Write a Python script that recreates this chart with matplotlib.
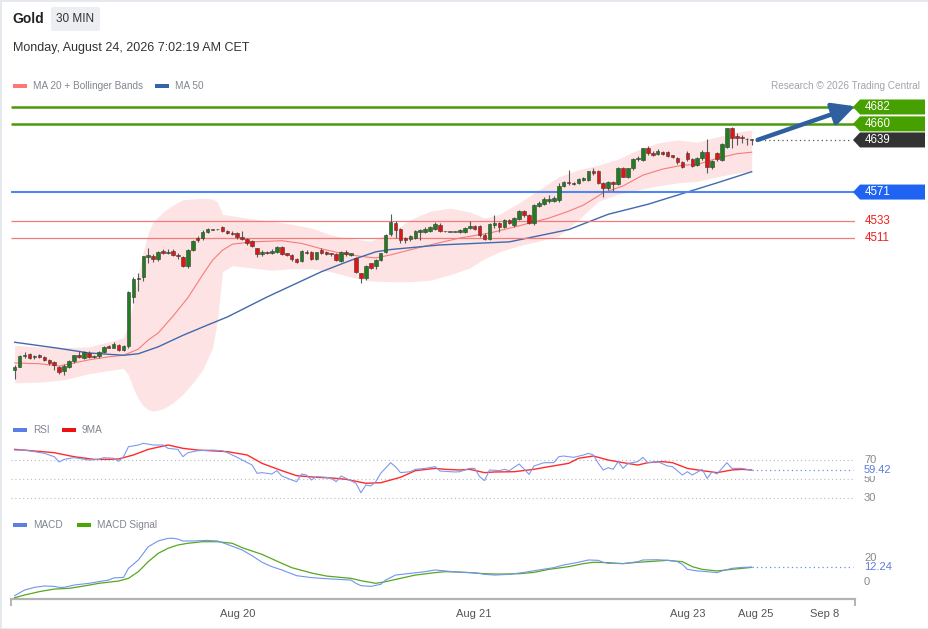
import matplotlib
matplotlib.use("Agg")
import numpy as np
import matplotlib.pyplot as plt
import matplotlib.transforms as mtransforms
from matplotlib.patches import Polygon, FancyBboxPatch, Rectangle

plt.rcParams['font.family'] = ['Liberation Sans', 'DejaVu Sans']

# ----------------- data (30 min candles, Gold) -----------------
opens = [
    4339, 4343, 4357, 4360, 4355.5, 4358, 4356, 4352, 4349, 4343,
    4337, 4343, 4350, 4358, 4355, 4361, 4356, 4357, 4362, 4370,
    4368, 4372, 4365, 4370, 4434, 4457, 4460, 4486, 4487, 4483,
    4494.5, 4492, 4494, 4489, 4486, 4474.5, 4495.5, 4511, 4510.6, 4518.8,
    4522, 4522.3, 4525.8, 4520.6, 4518, 4518, 4511.9, 4510.1, 4507.5, 4497.5,
    4490.1, 4493.2, 4491.9, 4492.7, 4498.8, 4491, 4489.3, 4484, 4481.4, 4493,
    4493.2, 4483.6, 4495.4, 4492.3, 4491, 4490.1, 4481, 4493.2, 4488.8, 4484.5,
    4465.8, 4459.2, 4477.9, 4474.9, 4482.3, 4493, 4515.8, 4531, 4522.3, 4511,
    4509.3, 4511.4, 4519.4, 4518.8, 4520.6, 4522.3, 4528.4, 4519.7, 4519.3, 4519.3,
    4518.8, 4518.8, 4524, 4526.6, 4526.6, 4515.4, 4509.3, 4528.4, 4530, 4525.8,
    4534.5, 4528, 4535.4, 4546.7, 4540.6, 4530.1, 4553.2, 4555.4, 4559.3, 4559.7,
    4560.6, 4578.4, 4584, 4583.2, 4582.4, 4586.7, 4586.7, 4598.4, 4598.4, 4583.2,
    4575.8, 4584.1, 4581, 4602.8, 4590.2, 4602, 4613.7, 4612.8, 4628.9, 4622.4,
    4620.6, 4623.7, 4623.7, 4619.3, 4615.8, 4609.8, 4622.4, 4613.7, 4606.2, 4615,
    4623.6, 4603.2, 4621.5, 4612.8, 4630.2, 4655, 4644.5, 4643.2, 4640.2, 4640,
]
highs = [
    4345, 4358, 4362, 4361, 4358, 4360, 4357, 4353, 4350, 4344,
    4346, 4352, 4359, 4363, 4364, 4363, 4358, 4364, 4370, 4371,
    4375, 4373, 4371, 4442, 4460, 4465, 4488, 4498, 4490, 4494,
    4497, 4497, 4497, 4492, 4487, 4497, 4509, 4514, 4521, 4524,
    4523, 4523, 4527, 4522, 4520, 4519, 4519.7, 4511, 4509, 4498,
    4495, 4494, 4497, 4501, 4500, 4492, 4490, 4485, 4496, 4495,
    4494, 4493, 4498, 4494, 4492, 4491, 4494, 4495, 4492, 4486,
    4466, 4476, 4479, 4484, 4492, 4516, 4543, 4533, 4524, 4513,
    4515, 4522, 4523, 4525, 4527, 4532, 4530, 4520.5, 4520, 4520,
    4522.5, 4525, 4532.7, 4528, 4528, 4517, 4531, 4540.6, 4532, 4536,
    4536, 4538, 4548, 4548, 4542, 4555, 4559, 4565, 4566.7, 4565.8,
    4582.4, 4586, 4599.8, 4584, 4589, 4591, 4599, 4602, 4600, 4584,
    4586, 4585, 4604, 4604, 4603, 4615, 4618, 4629, 4631.5, 4624,
    4627, 4625, 4625, 4620, 4617, 4611, 4624, 4615, 4617, 4626,
    4640, 4613, 4623, 4635, 4655, 4656, 4647.6, 4645, 4641, 4640.5,
]
lows = [
    4327, 4343, 4354, 4353, 4353, 4355, 4350, 4345, 4339, 4334,
    4332, 4341, 4348, 4354, 4353, 4354, 4354, 4355, 4361, 4367,
    4367, 4364, 4363, 4368, 4426, 4442, 4455, 4479, 4480, 4481,
    4490, 4490, 4487, 4484, 4473, 4472, 4494, 4506, 4509, 4517,
    4521.5, 4521.5, 4519, 4516, 4515, 4510, 4509, 4502, 4499, 4485.8,
    4488, 4490, 4490, 4491, 4489, 4487, 4481, 4478, 4480, 4490,
    4482, 4482, 4490, 4489, 4488, 4481, 4480, 4488, 4487, 4466,
    4452, 4456, 4470, 4470, 4481, 4491, 4514, 4510.6, 4505, 4504,
    4507, 4510, 4509, 4517, 4519, 4521, 4519, 4519, 4518.5, 4518.5,
    4517.5, 4517.5, 4523, 4522, 4513, 4509, 4508, 4524, 4518.8, 4524,
    4529, 4526, 4534, 4539, 4529, 4528, 4551, 4554, 4557, 4558,
    4558, 4577, 4580, 4580, 4581, 4586, 4586, 4593, 4582, 4564.1,
    4574, 4573, 4580, 4590, 4589, 4600, 4611, 4611, 4619, 4618,
    4619, 4619, 4617, 4615, 4608, 4602, 4612, 4604, 4605, 4613,
    4595.4, 4601, 4612, 4611, 4628, 4628, 4632, 4635, 4633, 4633,
]
closes = [
    4343, 4357, 4359, 4355, 4357, 4356, 4352, 4348, 4345, 4336,
    4344, 4351, 4358, 4356, 4362, 4356, 4357, 4362, 4369, 4368,
    4373, 4365, 4370, 4440, 4458, 4459, 4487, 4489, 4483, 4493,
    4491, 4493, 4488.5, 4488, 4474.5, 4495.5, 4507.5, 4508, 4518.8, 4523.2,
    4522.3, 4522.3, 4520.6, 4518, 4516.3, 4511.9, 4510.1, 4504, 4500.6, 4489.7,
    4493.2, 4491, 4494.5, 4499.7, 4490.1, 4488.8, 4483.2, 4479.7, 4494.5, 4491.9,
    4483.2, 4492.3, 4491, 4490.1, 4489.7, 4482.3, 4493.2, 4489.7, 4491, 4467,
    4458.4, 4474.9, 4471.4, 4482.3, 4491, 4515, 4532.3, 4521.4, 4508.4, 4509,
    4513.6, 4520.1, 4521.4, 4523.2, 4524.9, 4529.3, 4520.6, 4519.7, 4519.3, 4519.3,
    4521.4, 4524, 4526.6, 4523.2, 4514.5, 4510.1, 4529.3, 4530.1, 4525.8, 4534.5,
    4530.1, 4536.7, 4546.7, 4540.6, 4530.1, 4553.6, 4556.3, 4561.5, 4562.3, 4563.6,
    4579.3, 4583.6, 4582.4, 4581.5, 4587.6, 4588.9, 4598.4, 4595.4, 4583.2, 4576.7,
    4584.1, 4581.5, 4602.8, 4591, 4602, 4613.7, 4615.8, 4628, 4621.5, 4619.3,
    4624.5, 4621, 4618, 4616.3, 4609.8, 4603.2, 4613.7, 4605.4, 4615, 4623.6,
    4603.2, 4611.5, 4613.6, 4633.2, 4654.1, 4641.9, 4641.9, 4641, 4639.6, 4639,
]

# Bollinger bands (read at sampled candle indices)
bb_idx = [0, 5, 10, 15, 20, 22, 23, 24, 25, 26, 27, 28, 30, 32, 34, 36, 38, 40, 41, 42,
          44, 48, 52, 56, 60, 64, 68, 72, 76, 80, 84, 88, 92, 95, 98, 102, 106, 110, 114, 118,
          122, 126, 130, 134, 138, 142, 146, 149]
bb_upper = [4371, 4369, 4368, 4369, 4377, 4381, 4398, 4428, 4463, 4493, 4518, 4532, 4545, 4554, 4561,
            4562, 4563, 4562, 4558, 4542, 4540, 4536, 4533, 4529, 4524, 4515, 4510, 4507, 4518, 4535,
            4546, 4550, 4545, 4537, 4542, 4557, 4574, 4591, 4600, 4606, 4614, 4626, 4635, 4639, 4636,
            4643, 4649, 4652]
bb_lower = [4322, 4323, 4326, 4334, 4339, 4341, 4332, 4315, 4301, 4292, 4287, 4285, 4288, 4296, 4307,
            4322, 4339, 4368, 4404, 4467, 4475, 4472, 4469, 4471, 4471, 4467, 4460, 4455, 4454, 4454,
            4456, 4463, 4472, 4484, 4493, 4501, 4507, 4514, 4535, 4559, 4568, 4574, 4579, 4583, 4585,
            4591, 4596, 4598]

ma20_idx = [0, 5, 9, 12, 15, 19, 22, 25, 27, 29, 32, 35, 38, 40, 42, 44, 48, 54, 58, 62,
            66, 70, 73, 76, 82, 90, 96, 102, 108, 112, 115, 119, 123, 127, 131, 135, 138, 142, 146, 149]
ma20 = [4348, 4347, 4344, 4348, 4352, 4356, 4358, 4366, 4378, 4387, 4409, 4433, 4463, 4482, 4495,
        4503, 4506, 4507.5, 4504, 4497, 4491, 4487, 4485, 4489, 4499, 4511, 4517.5, 4527, 4537, 4546,
        4554, 4570, 4579, 4593, 4601, 4606, 4607, 4615, 4621, 4623]

ma50_idx = [0, 9, 15, 22, 25, 29, 34, 39, 43, 51, 62, 68, 73, 76, 86, 100, 112, 120, 128, 136, 142, 149]
ma50 = [4375, 4367, 4361, 4358, 4360, 4369, 4384, 4397.5, 4408, 4434, 4467, 4482, 4493, 4496, 4502,
        4506, 4522, 4542, 4555, 4571, 4583, 4597.5]

# key levels
resist_levels = [4682, 4660]
pivot_level = 4571
support_levels = [4533, 4511]

# RSI panel
rsi_idx = [0, 2, 4, 6, 8, 9, 10, 12, 15, 17, 18, 20, 21, 22, 23, 25, 26, 28, 30, 31,
           33, 34, 35, 37, 40, 42, 43, 45, 46, 48, 49, 50, 52, 53, 54, 56, 57, 58, 59, 60,
           61, 63, 64, 65, 66, 67, 69, 70, 71, 72, 73, 74, 76, 77, 78, 80, 81, 83, 85, 86,
           89, 90, 92, 93, 94, 95, 96, 98, 99, 100, 102, 104, 105, 107, 109, 110, 111, 113, 115, 116,
           117, 118, 119, 120, 121, 122, 123, 124, 126, 127, 128, 130, 132, 133, 135, 136, 137, 139, 140, 141,
           142, 144, 145, 147, 148, 149]
rsi = [80.8, 80.8, 79.1, 77.3, 73.8, 68.2, 71.0, 72.8, 70.3, 71.0, 72.8, 72.1, 68.9, 73.8, 84.3, 86.1, 87.9, 86.1, 86.1, 82.6,
       81.5, 73.8, 78.0, 80.1, 80.8, 80.1, 78.0, 73.1, 70.3, 65.0, 56.3, 57.0, 55.6, 59.1, 53.5, 49.3, 47.5, 55.6, 54.5, 49.3,
       52.8, 52.1, 51.0, 47.5, 53.5, 51.0, 45.8, 35.9, 44.0, 43.0, 47.5, 56.3, 67.5, 63.3, 57.0, 58.0, 60.5, 61.5, 63.3, 58.7,
       57.7, 58.0, 61.5, 61.5, 52.8, 48.6, 59.8, 59.1, 60.5, 59.1, 66.1, 55.2, 64.0, 67.5, 67.5, 73.8, 74.5, 73.1, 75.6, 77.3,
       75.6, 66.8, 59.8, 62.2, 60.5, 68.6, 61.5, 66.8, 68.6, 73.1, 67.5, 68.6, 64.0, 63.3, 54.5, 58.0, 54.5, 60.5, 51.0, 58.0,
       55.6, 67.5, 61.5, 61.5, 60.5, 59.42]
rsi_ma_idx = [0, 4, 8, 12, 16, 19, 21, 24, 27, 31, 34, 37, 43, 47, 50, 54, 57, 61, 64, 67,
              71, 74, 78, 81, 85, 87, 90, 92, 95, 97, 101, 105, 108, 112, 114, 117, 120, 123, 126, 128,
              131, 133, 136, 139, 142, 145, 147, 149]
rsi_ma = [81.5, 79.8, 78.0, 73.8, 71.0, 71.0, 71.4, 75.6, 81.5, 86.1, 82.6, 80.8, 79.1, 75.6, 66.8, 59.1, 53.8, 52.1, 51.4, 50.0,
          45.8, 46.4, 52.1, 59.1, 61.5, 60.5, 59.8, 60.5, 57.0, 57.7, 58.0, 60.5, 63.3, 66.8, 72.1, 74.5, 70.3, 67.5, 65.0, 67.5,
          68.6, 67.5, 61.5, 59.1, 57.0, 59.8, 60.5, 59.8]
rsi_levels = [70, 50, 30]

# MACD panel
macd_idx = [0, 2, 4, 6, 8, 9, 10, 12, 15, 17, 19, 20, 22, 23, 25, 26, 27, 29, 31, 32,
            33, 34, 36, 39, 41, 43, 46, 48, 50, 52, 54, 57, 60, 62, 64, 68, 69, 70, 72, 74,
            75, 77, 80, 83, 85, 87, 90, 91, 93, 95, 97, 100, 103, 106, 109, 111, 114, 116, 118, 119,
            120, 123, 126, 127, 130, 132, 134, 135, 136, 138, 140, 142, 143, 145, 147, 149]
macd = [-11.2, -6.6, -4.4, -3.3, -3.6, -4.4, -4.4, -2.5, -1.1, 0.3, 1.6, 3.3, 3.8, 11.2, 18.1, 23.5, 29.0, 33.7, 35.9, 35.9,
        35.3, 33.7, 33.7, 34.2, 33.7, 30.9, 26.3, 21.6, 16.2, 12.6, 9.9, 5.2, 3.6, 3.0, 2.5, 1.6, -1.1, -3.0, -3.6, -1.9,
        1.6, 5.7, 7.1, 8.5, 9.9, 9.1, 7.9, 7.9, 7.7, 6.3, 5.7, 6.3, 7.9, 9.9, 11.8, 14.0, 16.2, 18.1, 17.8, 16.2,
        15.3, 15.1, 16.7, 18.1, 18.3, 17.8, 16.7, 14.5, 10.4, 9.1, 8.5, 7.7, 9.1, 11.2, 12.0, 12.24]
sig_idx = [0, 2, 5, 8, 11, 14, 17, 21, 23, 25, 27, 29, 31, 33, 35, 38, 41, 44, 46, 50,
           53, 56, 60, 63, 68, 70, 73, 75, 78, 81, 85, 87, 90, 91, 95, 98, 102, 105, 108, 112,
           115, 117, 120, 123, 126, 128, 132, 135, 137, 139, 142, 145, 147, 149]
signal = [-12.9, -10.7, -7.9, -5.8, -5.2, -3.3, -1.1, 0.8, 3.0, 8.5, 16.7, 23.5, 27.7, 30.4, 31.8, 33.1, 33.1, 31.8, 28.2, 22.7,
          17.2, 11.8, 7.4, 4.9, 3.0, 1.1, -1.1, 0.3, 3.0, 5.7, 7.7, 8.5, 8.2, 7.9, 6.8, 6.5, 6.8, 7.9, 10.4, 12.6,
          15.1, 16.2, 15.9, 15.1, 16.2, 16.7, 17.8, 16.7, 12.6, 10.4, 9.1, 10.4, 11.2, 12.0]
macd_ticks = [20, 0]

# time axis (positions in candle units)
date_pos = [45.0, 92.9, 136.1, 149.9, 163.8]
date_labels = ['Aug 20', 'Aug 21', 'Aug 23', 'Aug 25', 'Sep 8']

# ----------------- layout helpers -----------------
W, H = 929, 629
fig = plt.figure(figsize=(W / 100, H / 100), dpi=100)
fig.patch.set_facecolor('white')


def fx(px):
    return px / W


def fy(py):
    return 1 - py / H


def px_axes(left, top, right, bottom):
    a = fig.add_axes([left / W, 1 - bottom / H, (right - left) / W, (bottom - top) / H])
    a.set_facecolor('none')
    for s in a.spines.values():
        s.set_visible(False)
    a.set_xticks([])
    a.set_yticks([])
    return a


X0, DX = 14.7, 4.946          # pixel of candle 0, pixel step per candle


def px_i(px):
    return (px - X0) / DX


XLIM = (px_i(11), px_i(855))
n = len(closes)
idx = np.arange(n)

# ----------------- main price panel -----------------
PPX = 1.305                   # price per pixel
ax = px_axes(11, 95, 855, 420)
ax.set_xlim(*XLIM)
ax.set_ylim(4682 - (420 - 107) * PPX, 4682 - (95 - 107) * PPX)

ax.fill_between(bb_idx, bb_lower, bb_upper, color='#fde3e3', lw=0, zorder=1)
ax.plot(ma20_idx, ma20, color='#f77b7b', lw=0.8, zorder=2)
ax.plot(ma50_idx, ma50, color='#4169ad', lw=1.0, zorder=2)

ax.hlines(resist_levels, XLIM[0], XLIM[1], color='#4c9a0c', lw=1.8, zorder=2.5)
ax.hlines(pivot_level, XLIM[0], XLIM[1], color='#4d88f0', lw=1.5, zorder=2.5)
ax.hlines(support_levels, XLIM[0], XLIM[1], color='#f27c7c', lw=0.9, zorder=2.5)

o, h, l, c = map(np.array, (opens, highs, lows, closes))
cols = np.where(c > o, '#1f7f1f', np.where(c < o, '#e31414', '#777777'))
ax.vlines(idx, l, h, color='#5a5a5a', lw=0.8, zorder=3)
ax.bar(idx, np.maximum(np.abs(c - o), 0.9), bottom=np.minimum(o, c), width=0.72,
       color=cols, edgecolor='#3a3a3a', linewidth=0.4, zorder=4)

# current price dotted line and forecast arrow
ax.hlines(closes[-1], px_i(760), px_i(851), color='#555555', lw=0.9,
          linestyles=(0, (1, 2.5)), zorder=2)
ax.annotate('', xy=(px_i(855), resist_levels[0] + 1), xytext=(n - 1 + 1.2, closes[-1]),
            arrowprops=dict(arrowstyle='-|>,head_length=0.75,head_width=0.38', lw=3.2,
                            color='#2f5f9f', shrinkA=0, shrinkB=0, mutation_scale=18),
            annotation_clip=False, zorder=6)

tr = mtransforms.blended_transform_factory(fig.transFigure, ax.transData)


def tag(value, color):
    hh = 7.5 * PPX
    pts = [(fx(853), value), (fx(860), value + hh), (fx(925), value + hh),
           (fx(925), value - hh), (fx(860), value - hh)]
    ax.add_patch(Polygon(pts, closed=True, transform=tr, facecolor=color,
                         edgecolor='none', clip_on=False, zorder=7))
    ax.text(fx(865), value, f'{value}', transform=tr, color='white', fontsize=8.3,
            va='center', ha='left', zorder=8)


for lv in resist_levels:
    tag(lv, '#46a000')
tag(round(closes[-1]), '#333333')
tag(pivot_level, '#1f63f2')
for lv in support_levels:
    ax.text(fx(865), lv, f'{lv}', transform=tr, color='#ee2020', fontsize=8.3,
            va='center', ha='left')

# ----------------- RSI panel -----------------
rax = px_axes(11, 440, 855, 505)
rax.set_xlim(*XLIM)
rax.set_ylim(70 - (505 - 460.3) / 0.95, 70 + (460.3 - 440) / 0.95)
rax.hlines(rsi_levels, XLIM[0], px_i(853), color='#bbbbbb', lw=0.8, linestyles=(0, (1, 2.5)))
rax.plot(rsi_ma_idx, rsi_ma, color='#ff2a2a', lw=1.0, zorder=3)
rax.plot(rsi_idx, rsi, color='#7d9bee', lw=0.8, zorder=4)
rax.hlines(rsi[-1], rsi_idx[-1], px_i(853), color='#6c8ded', lw=0.9, linestyles=(0, (1, 2.5)))
rtr = mtransforms.blended_transform_factory(fig.transFigure, rax.transData)
for lv in rsi_levels:
    rax.text(fx(864), lv, f'{lv}', transform=rtr, color='#888888', fontsize=8, va='center')
rax.text(fx(864), rsi[-1], f'{rsi[-1]:.2f}', transform=rtr, color='#5b7be0', fontsize=8,
         va='center', bbox=dict(facecolor='white', edgecolor='none', pad=0.5))

# ----------------- MACD panel -----------------
mac = px_axes(11, 530, 855, 599)
mac.set_xlim(*XLIM)
m_lo, m_hi = -(599 - 582) / 1.217, (582 - 530) / 1.217
mac.set_ylim(m_lo, m_hi)
mac.plot(sig_idx, signal, color='#55a81f', lw=0.9, zorder=3)
mac.plot(macd_idx, macd, color='#7393ee', lw=0.8, zorder=4)
mac.hlines(macd[-1], macd_idx[-1], px_i(853), color='#6c8ded', lw=0.9, linestyles=(0, (1, 2.5)))
mtr = mtransforms.blended_transform_factory(fig.transFigure, mac.transData)
for lv in macd_ticks:
    mac.text(fx(864), lv, f'{lv}', transform=mtr, color='#888888', fontsize=8, va='center')
mac.text(fx(864), macd[-1], f'{macd[-1]:.2f}', transform=mtr, color='#5b7be0', fontsize=8,
         va='center', bbox=dict(facecolor='white', edgecolor='none', pad=0.5))

mac.spines['bottom'].set_visible(True)
mac.spines['bottom'].set_color('#b3b3b3')
mac.spines['bottom'].set_linewidth(1.6)
mac.set_xticks(date_pos)
mac.set_xticklabels(date_labels, fontsize=8, color='#555555')
mac.tick_params(axis='x', length=0, pad=7)
for xe in (0.0, 1.0):
    mac.plot([xe, xe], [0, -0.08], transform=mac.transAxes, color='#b3b3b3',
             lw=1.4, clip_on=False)

# ----------------- header and legends -----------------
fig.text(fx(12), fy(19), 'Gold', fontsize=10, fontweight='bold', color='#222222', va='center')
fig.add_artist(FancyBboxPatch((fx(51), fy(31)), 49 / W, 24 / H, transform=fig.transFigure,
                              boxstyle='round,pad=0,rounding_size=0.003',
                              facecolor='#eceef2', edgecolor='none'))
fig.text(fx(75.5), fy(19), '30 MIN', fontsize=8.5, color='#333333', va='center', ha='center')
fig.text(fx(13), fy(48), 'Monday, August 24, 2026 7:02:19 AM CET', fontsize=9,
         color='#333333', va='center')


def legend_item(x, y, color, label):
    fig.add_artist(Rectangle((fx(x), fy(y + 2)), 14 / W, 4 / H, transform=fig.transFigure,
                             facecolor=color, edgecolor='none'))
    fig.text(fx(x + 20), fy(y), label, fontsize=7.2, color='#80858f', va='center')


legend_item(13, 86, '#ff7777', 'MA 20 + Bollinger Bands')
legend_item(155, 86, '#3563a8', 'MA 50')
fig.text(fx(920), fy(86), 'Research \u00a9 2026 Trading Central', fontsize=7.2,
         color='#a0a4ab', va='center', ha='right')
legend_item(13, 430, '#5b7fe6', 'RSI')
legend_item(62, 430, '#ee1111', '9MA')
legend_item(13, 525, '#5b7fe6', 'MACD')
legend_item(77, 525, '#44aa00', 'MACD Signal')

fig.add_artist(Rectangle((0, 0), 1, 1, transform=fig.transFigure, fill=False,
                         edgecolor='#e4e8ee', lw=2))

fig.savefig('out.png', dpi=100)
